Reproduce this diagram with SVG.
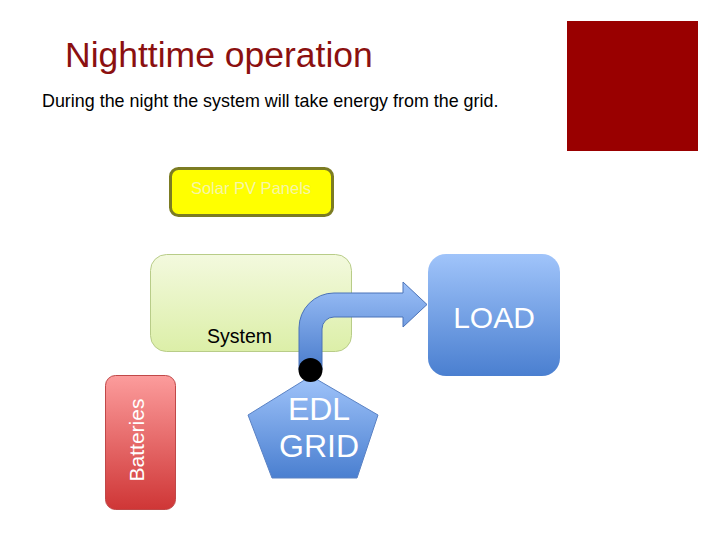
<svg xmlns="http://www.w3.org/2000/svg" width="720" height="540" viewBox="0 0 720 540">
  <defs>
    <linearGradient id="gBlue" x1="0" y1="0" x2="0" y2="1">
      <stop offset="0" stop-color="#a0c4fa"/>
      <stop offset="1" stop-color="#4a7fd0"/>
    </linearGradient>
    <linearGradient id="gArrow" x1="0" y1="0" x2="0" y2="1">
      <stop offset="0" stop-color="#9cc0f8"/>
      <stop offset="1" stop-color="#4a7ccc"/>
    </linearGradient>
    <linearGradient id="gGreen" x1="0" y1="0" x2="0" y2="1">
      <stop offset="0" stop-color="#f3f9de"/>
      <stop offset="1" stop-color="#dcefa8"/>
    </linearGradient>
    <linearGradient id="gRed" x1="0" y1="0" x2="0" y2="1">
      <stop offset="0" stop-color="#fc9c9c"/>
      <stop offset="1" stop-color="#cf3636"/>
    </linearGradient>
    <style>
      text { font-family: "Liberation Sans", Arial, sans-serif; }
      .white { fill: #ffffff; }
    </style>
  </defs>
  <rect width="720" height="540" fill="#ffffff"/>

  <g id="title">
    <text x="65" y="67" font-size="35.5" fill="#8b1010">Nighttime operation</text>
    <text x="42" y="107" font-size="17.9" fill="#000000">During the night the system will take energy from the grid.</text>
  </g>

  <g id="red-square">
    <rect x="567" y="21" width="131" height="130" fill="#990000"/>
  </g>

  <g id="solar">
    <rect x="170.5" y="168.5" width="162" height="47" rx="8" fill="#ffff00" stroke="#7c7c22" stroke-width="3"/>
    <text x="251" y="194" font-size="16.5" text-anchor="middle" fill="#f6f6a8">Solar PV Panels</text>
  </g>

  <g id="system">
    <rect x="150.5" y="254.5" width="201" height="97" rx="16" fill="url(#gGreen)" stroke="#b8cc88" stroke-width="1"/>
    <text x="207" y="343" font-size="19.5" fill="#000000">System</text>
  </g>

  <g id="load">
    <rect x="428" y="254" width="132" height="122" rx="18" fill="url(#gBlue)"/>
    <text x="494" y="328" font-size="30" text-anchor="middle" class="white">LOAD</text>
  </g>

  <g id="batteries">
    <rect x="105.5" y="375.5" width="70" height="134" rx="10" fill="url(#gRed)" stroke="#c04848" stroke-width="1"/>
    <text transform="translate(144 440) rotate(-90)" x="0" y="0" font-size="21" text-anchor="middle" class="white">Batteries</text>
  </g>

  <g id="edl-grid">
    <polygon points="311,376 378,415 357,478 272,478 248,415" fill="url(#gBlue)" stroke="#5a82c4" stroke-width="1"/>
    <text x="319" y="420" font-size="32" text-anchor="middle" class="white">EDL</text>
    <text x="319" y="457" font-size="32" text-anchor="middle" class="white">GRID</text>
  </g>

  <g id="connectors">
    <path d="M299,370 L299,328 A35,35 0 0 1 334,293 L403,293 L403,282 L427,304.5 L403,327 L403,317 L334,317 A12,12 0 0 0 322,329 L322,370 Z" fill="url(#gArrow)" stroke="#4a72b8" stroke-width="1"/>
    <circle cx="310.5" cy="370" r="12" fill="#000000"/>
  </g>
</svg>
